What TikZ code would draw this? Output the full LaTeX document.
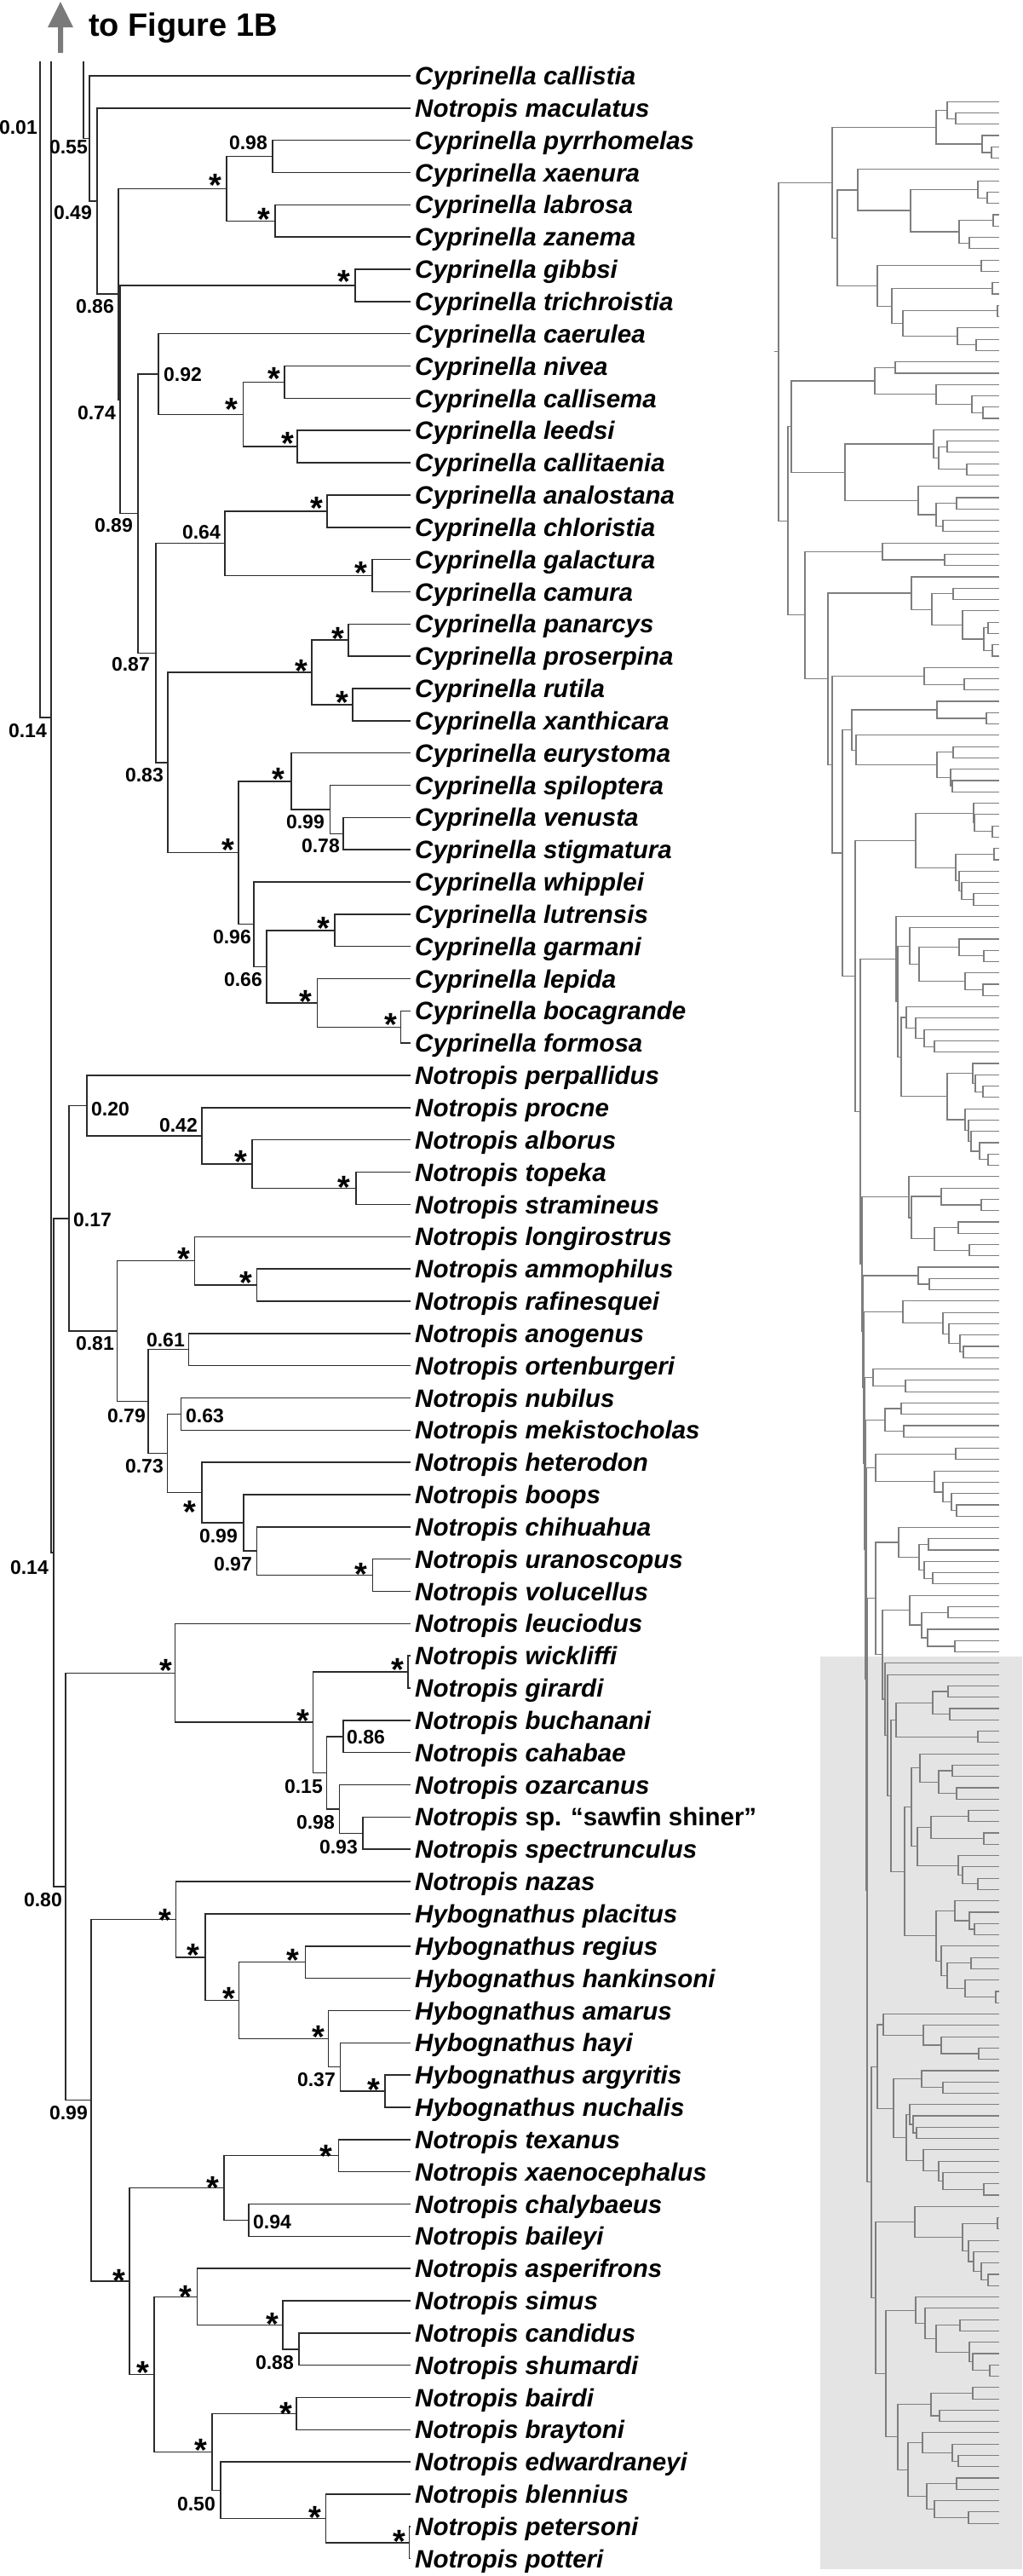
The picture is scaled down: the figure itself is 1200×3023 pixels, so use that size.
\documentclass[tikz,border=0pt]{standalone}
\usepackage{fontspec}
\setmainfont{Liberation Sans}
\usetikzlibrary{calc}
\definecolor{linecol}{HTML}{2B2B2B}
\definecolor{greycol}{HTML}{7E7E7E}
\definecolor{boxcol}{HTML}{E4E4E4}
\definecolor{arrowcol}{HTML}{7A7A7A}
\tikzset{
  br/.style={draw=linecol, line width=1.5pt},
  gb/.style={draw=greycol, line width=1.15pt},
  spl/.style={font=\fontsize{29.5}{32}\selectfont\bfseries\itshape, inner sep=0pt, anchor=base west, xshift=5pt, yshift=-10.6pt},
  num/.style={font=\fontsize{23}{26}\selectfont\bfseries, inner sep=0pt},
  ast/.style={font=\fontsize{38}{40}\selectfont\bfseries, inner sep=0pt, anchor=base, yshift=-20.9pt},
}
% clade: [style]{name}{x}{child1}{child2}
\newcommand\mkclade[5][br]{%
  \path let \p1=($(#4)!0.5!(#5)$) in coordinate (#2) at (#3pt,\y1);%
  \draw[#1] (#2) |- (#4) (#2) |- (#5);}
\begin{document}
\begin{tikzpicture}[x=1pt,y=-1pt]
\useasboundingbox (0,0) rectangle (1200,3023);
\fill[white] (0,0) rectangle (1200,3023);
\fill[boxcol] (963,1944) rectangle (1200,3015);

% ---------- arrow and heading ----------
\fill[arrowcol] (68,62) -- (68,32) -- (56,32) -- (71,2) -- (86,32) -- (74,32) -- (74,62) -- cycle;
\node[font=\fontsize{38}{40}\selectfont\bfseries, anchor=base west, inner sep=0pt] (title) at (104,42) {to Figure 1B};

% ---------- main tree leaves ----------
\foreach \i in {1,...,78}{\coordinate (L\i) at (482,{89+37.84*(\i-1)});}

% Cyprinella part
\mkclade{T1}{320}{L3}{L4}
\mkclade{T2}{323}{L5}{L6}
\mkclade{T3}{266}{T1}{T2}
\mkclade{T4}{417}{L7}{L8}
\mkclade{T5}{334}{L10}{L11}
\mkclade{T6}{349}{L12}{L13}
\mkclade{T7}{285.5}{T5}{T6}
\mkclade{T8}{186}{L9}{T7}
\mkclade{T9}{384}{L14}{L15}
\mkclade{T10}{437}{L16}{L17}
\mkclade{T11}{264}{T9}{T10}
\mkclade{T12}{409}{L18}{L19}
\mkclade{T13}{414}{L20}{L21}
\mkclade{T14}{366}{T12}{T13}
\mkclade{T15}{403}{L24}{L25}
\mkclade{T16}{387.5}{L23}{T15}
\mkclade{T17}{342}{L22}{T16}
\mkclade{T18}{393}{L27}{L28}
\mkclade{T19}{470.5}{L30}{L31}
\mkclade{T20}{372.5}{L29}{T19}
\mkclade{T21}{313}{T18}{T20}
\mkclade{T22}{298}{L26}{T21}
\mkclade{T23}{280}{T17}{T22}
\mkclade{T24}{197}{T14}{T23}
\mkclade{T25}{183}{T11}{T24}
\mkclade{T26}{162}{T8}{T25}
\mkclade{T27}{141}{T4}{T26}
\mkclade{T28}{139}{T3}{T27}
\mkclade{T29}{114}{L2}{T28}
\mkclade{T30}{105}{L1}{T29}
\coordinate (S3) at (98,72);
\draw[br] (S3) |- (T30);

% Notropis part
\mkclade{T31}{418}{L35}{L36}
\mkclade{T32}{296}{L34}{T31}
\mkclade{T33}{237}{L33}{T32}
\mkclade{T34}{102}{L32}{T33}
\mkclade{T35}{301.7}{L38}{L39}
\mkclade{T36}{228.5}{L37}{T35}
\mkclade{T37}{221.4}{L40}{L41}
\mkclade{T38}{212.7}{L42}{L43}
\mkclade{T39}{437.7}{L47}{L48}
\mkclade{T40}{301.7}{L46}{T39}
\mkclade{T41}{286}{L45}{T40}
\mkclade{T42}{237}{L44}{T41}
\mkclade{T43}{196.5}{T38}{T42}
\mkclade{T44}{174}{T37}{T43}
\mkclade{T45}{137.6}{T36}{T44}
\mkclade{T46}{81}{T34}{T45}
\mkclade{T47}{479}{L50}{L51}
\mkclade{T48}{403}{L52}{L53}
\mkclade{T49}{425.8}{L55}{L56}
\mkclade{T50}{398.6}{L54}{T49}
\mkclade{T51}{383.5}{T48}{T50}
\mkclade{T52}{367.7}{T47}{T51}
\mkclade{T53}{205.6}{L49}{T52}
\mkclade{T54}{452}{L63}{L64}
\mkclade{T55}{399.4}{L62}{T54}
\mkclade{T56}{385.5}{L61}{T55}
\mkclade{T57}{358.6}{L59}{L60}
\mkclade{T58}{280.7}{T57}{T56}
\mkclade{T59}{241}{L58}{T58}
\mkclade{T60}{206.4}{L57}{T59}
\mkclade{T61}{397.4}{L65}{L66}
\mkclade{T62}{291.8}{L67}{L68}
\mkclade{T63}{263}{T61}{T62}
\mkclade{T64}{351}{L71}{L72}
\mkclade{T65}{332}{L70}{T64}
\mkclade{T66}{231.3}{L69}{T65}
\mkclade{T67}{348}{L73}{L74}
\mkclade{T68}{480.4}{L77}{L78}
\mkclade{T69}{382.7}{L76}{T68}
\mkclade{T70}{259}{L75}{T69}
\mkclade{T71}{249}{T67}{T70}
\mkclade{T72}{181}{T66}{T71}
\mkclade{T73}{152}{T63}{T72}
\mkclade{T74}{106.8}{T60}{T73}
\mkclade{T75}{77}{T53}{T74}
\mkclade{T76}{63}{T46}{T75}
\coordinate (S1) at (47,72);
\coordinate (S2) at (60,72);
\coordinate (N50) at (60,842);
\draw[br] (S1) |- (N50);
\draw[br] (S2) -- (N50) |- (T76);

% ---------- species names ----------
\foreach \s [count=\i] in {Cyprinella callistia, Notropis maculatus, Cyprinella pyrrhomelas, Cyprinella xaenura, Cyprinella labrosa, Cyprinella zanema, Cyprinella gibbsi, Cyprinella trichroistia, Cyprinella caerulea, Cyprinella nivea, Cyprinella callisema, Cyprinella leedsi, Cyprinella callitaenia, Cyprinella analostana, Cyprinella chloristia, Cyprinella galactura, Cyprinella camura, Cyprinella panarcys, Cyprinella proserpina, Cyprinella rutila, Cyprinella xanthicara, Cyprinella eurystoma, Cyprinella spiloptera, Cyprinella venusta, Cyprinella stigmatura, Cyprinella whipplei, Cyprinella lutrensis, Cyprinella garmani, Cyprinella lepida, Cyprinella bocagrande, Cyprinella formosa, Notropis perpallidus, Notropis procne, Notropis alborus, Notropis topeka, Notropis stramineus, Notropis longirostrus, Notropis ammophilus, Notropis rafinesquei, Notropis anogenus, Notropis ortenburgeri, Notropis nubilus, Notropis mekistocholas, Notropis heterodon, Notropis boops, Notropis chihuahua, Notropis uranoscopus, Notropis volucellus, Notropis leuciodus, Notropis wickliffi, Notropis girardi, Notropis buchanani, Notropis cahabae, Notropis ozarcanus, {Notropis \upshape sp. “sawfin shiner”}, Notropis spectrunculus, Notropis nazas, Hybognathus placitus, Hybognathus regius, Hybognathus hankinsoni, Hybognathus amarus, Hybognathus hayi, Hybognathus argyritis, Hybognathus nuchalis, Notropis texanus, Notropis xaenocephalus, Notropis chalybaeus, Notropis baileyi, Notropis asperifrons, Notropis simus, Notropis candidus, Notropis shumardi, Notropis bairdi, Notropis braytoni, Notropis edwardraneyi, Notropis blennius, Notropis petersoni, Notropis potteri}
  {\node[spl] (sp\i) at (L\i) {\s};}

% ---------- support values ----------
\foreach \a/\x/\y/\t [count=\k] in {east/44/150/0.01, east/103/173/0.55, east/108/250/0.49, east/314/168/0.98, east/134/360/0.86, east/136/485/0.74, west/192/440/0.92, east/156/617/0.89, east/259/625/0.64, east/176/780/0.87, east/192/910/0.83, east/381/965/0.99, east/399/993/0.78, east/295/1100/0.96, east/308/1150/0.66, west/107/1302/0.20, east/232/1321/0.42, west/86/1432/0.17, east/134/1577/0.81, east/217/1573/0.61, east/171/1662/0.79, west/218/1662/0.63, east/192/1721/0.73, east/279/1803/0.99, east/296/1836/0.97, east/55/858/0.14, east/57/1840/0.14, west/407/2039/0.86, east/379/2097/0.15, east/393/2139/0.98, east/420/2168/0.93, east/73/2230/0.80, east/394/2441/0.37, east/103/2480/0.99, west/297/2608/0.94, east/345/2773/0.88, east/253/2939/0.50}
  {\node[num,anchor=\a] (nv\k) at (\x,\y) {\t};}

\foreach \x/\y [count=\k] in {253/210, 310/250, 404/323, 272/473, 322/437, 338/513, 372/589, 424/665, 354/780, 397/742, 402/817, 327/907, 268/990, 380/1082, 358.6/1168, 458.7/1195, 282.7/1356, 404/1386, 215.5/1470, 288.6/1498, 223/1767, 424/1840, 194.5/1953, 466.6/1952, 356/2012, 193.7/2246, 226.6/2287, 344/2293, 269/2338, 373.6/2383, 439/2445, 382.7/2523, 250/2560, 140/2669, 217.5/2688, 319.5/2720, 168/2777, 336/2825, 236/2868, 369.7/2947, 468.5/2975}
  {\node[ast] (as\k) at (\x,\y) {*};}

% ---------- grey overview tree ----------
\foreach \j in {1,...,215}{\coordinate (m\j) at (1173,{119.2+13.28*(\j-1)});}
\mkclade[gb]{a1}{1122}{m2}{m3}
\mkclade[gb]{a2}{1112}{m1}{a1}
\mkclade[gb]{a3}{1164}{m5}{m6}
\mkclade[gb]{a4}{1153}{m4}{a3}
\mkclade[gb]{a5}{1099}{a2}{a4}
\mkclade[gb]{a6}{1159}{m9}{m10}
\mkclade[gb]{a7}{1148}{m8}{a6}
\mkclade[gb]{a8}{1166}{m11}{m12}
\mkclade[gb]{a9}{1138}{m13}{m14}
\mkclade[gb]{a10}{1126}{a8}{a9}
\mkclade[gb]{a11}{1069}{a7}{a10}
\mkclade[gb]{a12}{1007}{m7}{a11}
\mkclade[gb]{a13}{1152}{m15}{m16}
\mkclade[gb]{a14}{1165}{m17}{m18}
\mkclade[gb]{a15}{1171}{m19}{m20}
\mkclade[gb]{a16}{1146}{m22}{m23}
\mkclade[gb]{a17}{1124}{m21}{a16}
\mkclade[gb]{a18}{1060}{a15}{a17}
\mkclade[gb]{a19}{1047}{a14}{a18}
\mkclade[gb]{a20}{1030}{a13}{a19}
\mkclade[gb]{a21}{983}{a12}{a20}
\mkclade[gb]{a22}{977}{a5}{a21}
\mkclade[gb]{b1}{1051}{m24}{m25}
\mkclade[gb]{b2}{1154}{m28}{m29}
\mkclade[gb]{b3}{1141}{m27}{b2}
\mkclade[gb]{b4}{1099}{m26}{b3}
\mkclade[gb]{b5}{1027}{b1}{b4}
\mkclade[gb]{b6}{1112}{m31}{m32}
\mkclade[gb]{b7}{1135}{m33}{m34}
\mkclade[gb]{b8}{1102}{b6}{b7}
\mkclade[gb]{b9}{1096}{m30}{b8}
\mkclade[gb]{b10}{1123}{m36}{m37}
\mkclade[gb]{b11}{1107}{m38}{m39}
\mkclade[gb]{b12}{1099}{b10}{b11}
\mkclade[gb]{b13}{1078}{m35}{b12}
\mkclade[gb]{b14}{992}{b9}{b13}
\mkclade[gb]{b15}{929}{b5}{b14}
\mkclade[gb]{c1}{1109}{m41}{m42}
\mkclade[gb]{c2}{1036}{m40}{c1}
\mkclade[gb]{c3}{1119}{m44}{m45}
\mkclade[gb]{c4}{1160}{m47}{m48}
\mkclade[gb]{c5}{1165}{m49}{m50}
\mkclade[gb]{c6}{1155}{c4}{c5}
\mkclade[gb]{c7}{1130}{m46}{c6}
\mkclade[gb]{c8}{1094}{c3}{c7}
\mkclade[gb]{c9}{1070}{m43}{c8}
\mkclade[gb]{c10}{1132}{m52}{m53}
\mkclade[gb]{c11}{1085}{m51}{c10}
\mkclade[gb]{d1}{1158}{m55}{m56}
\mkclade[gb]{d2}{1100}{m54}{d1}
\mkclade[gb]{d3}{1119}{m58}{m59}
\mkclade[gb]{d4}{1118}{m61}{m62}
\mkclade[gb]{d5}{1116}{m60}{d4}
\mkclade[gb]{d6}{1100}{d3}{d5}
\mkclade[gb]{d7}{1005}{m57}{d6}
\mkclade[gb]{d8}{1000}{d2}{d7}
\mkclade[gb]{d9}{1165}{m65}{m66}
\mkclade[gb]{d10}{1144}{m64}{d9}
\mkclade[gb]{d11}{1143}{m63}{d10}
\mkclade[gb]{d12}{1167}{m67}{m68}
\mkclade[gb]{d13}{1143}{m71}{m72}
\mkclade[gb]{d14}{1129}{m70}{d13}
\mkclade[gb]{d15}{1126}{m69}{d14}
\mkclade[gb]{d16}{1122}{d12}{d15}
\mkclade[gb]{d17}{1075}{d11}{d16}
\mkclade[gb]{e1}{1155}{m76}{m77}
\mkclade[gb]{e2}{1126}{m75}{e1}
\mkclade[gb]{e3}{1154}{m79}{m80}
\mkclade[gb]{e4}{1133}{m78}{e3}
\mkclade[gb]{e5}{1079}{e2}{e4}
\mkclade[gb]{e6}{1068}{m74}{e5}
\mkclade[gb]{e7}{1097}{m84}{m85}
\mkclade[gb]{e8}{1085}{m83}{e7}
\mkclade[gb]{e9}{1075}{m82}{e8}
\mkclade[gb]{e10}{1064}{m81}{e9}
\mkclade[gb]{e11}{1154}{m88}{m89}
\mkclade[gb]{e12}{1145}{m87}{e11}
\mkclade[gb]{e13}{1142}{m86}{e12}
\mkclade[gb]{e14a}{1160}{m94}{m95}
\mkclade[gb]{e14}{1150}{m93}{e14a}
\mkclade[gb]{e15}{1140}{m92}{e14}
\mkclade[gb]{e16}{1137}{m91}{e15}
\mkclade[gb]{e17}{1133}{m90}{e16}
\mkclade[gb]{e18}{1112}{e13}{e17}
\mkclade[gb]{e19}{1058}{e10}{e18}
\mkclade[gb]{e20}{1054}{e6}{e19}
\mkclade[gb]{e21}{1052}{m73}{e20}
\mkclade[gb]{f1}{1152}{m98}{m99}
\mkclade[gb]{f2}{1105}{m97}{f1}
\mkclade[gb]{f3}{1125}{m100}{m101}
\mkclade[gb]{f4}{1138}{m102}{m103}
\mkclade[gb]{f5}{1097}{f3}{f4}
\mkclade[gb]{f6}{1070}{f2}{f5}
\mkclade[gb]{f7}{1067}{m96}{f6}
\mkclade[gb]{g1}{1091}{m105}{m106}
\mkclade[gb]{g2}{1078}{m104}{g1}
\mkclade[gb]{g3}{1131}{m111}{m112}
\mkclade[gb]{g4}{1127}{m110}{g3}
\mkclade[gb]{g5}{1114}{m109}{g4}
\mkclade[gb]{g6}{1107}{m108}{g5}
\mkclade[gb]{g7}{1060}{m107}{g6}
\mkclade[gb]{g8}{1063}{m114}{m115}
\mkclade[gb]{g9}{1025}{m113}{g8}
\mkclade[gb]{g10}{1058}{m116}{m117}
\mkclade[gb]{g11}{1061}{m118}{m119}
\mkclade[gb]{g12}{1039}{g10}{g11}
\mkclade[gb]{g13}{1122}{m120}{m121}
\mkclade[gb]{g14}{1123}{m125}{m126}
\mkclade[gb]{g15}{1117}{m124}{g14}
\mkclade[gb]{g16}{1107}{m123}{g15}
\mkclade[gb]{g17}{1097}{m122}{g16}
\mkclade[gb]{g18}{1028}{g13}{g17}
\mkclade[gb]{h1}{1113}{m141}{m142}
\mkclade[gb]{h2}{1115}{m143}{m144}
\mkclade[gb]{h3}{1095}{h1}{h2}
\mkclade[gb]{h4}{1148}{m145}{m146}
\mkclade[gb]{h5}{1052}{h3}{h4}
\mkclade[gb]{h6}{1118}{m148}{m149}
\mkclade[gb]{h7}{1123}{m150}{m151}
\mkclade[gb]{h8}{1102}{h6}{h7}
\mkclade[gb]{h9}{1080}{m147}{h8}
\mkclade[gb]{h10}{1137}{m152}{m153}
\mkclade[gb]{h11}{1155}{m154}{m155}
\mkclade[gb]{h12}{1093}{h10}{h11}
\mkclade[gb]{h13}{1148}{m158}{m159}
\mkclade[gb]{h14}{1130}{m157}{h13}
\mkclade[gb]{h15}{1125}{m156}{h14}
\mkclade[gb]{h16}{1077}{h12}{h15}
\mkclade[gb]{h17}{1070}{h9}{h16}
\mkclade[gb]{h18}{1144}{m162}{m163}
\mkclade[gb]{h19}{1138}{m161}{h18}
\mkclade[gb]{h20}{1121}{m160}{h19}
\mkclade[gb]{h21}{1140}{m165}{m166}
\mkclade[gb]{h22}{1169}{m168}{m169}
\mkclade[gb]{h23}{1133}{m167}{h22}
\mkclade[gb]{h24}{1112}{h21}{h23}
\mkclade[gb]{h25}{1105}{m164}{h24}
\mkclade[gb]{h26}{1099}{h20}{h25}
\mkclade[gb]{h27}{1062}{h17}{h26}
\mkclade[gb]{h28}{1046}{h5}{h27}
\mkclade[gb]{h29}{1042}{m140}{h28}
\mkclade[gb]{h30}{1039}{m139}{h29}
\mkclade[gb]{s1}{1090}{m128}{m129}
\mkclade[gb]{s2}{1095}{m131}{m132}
\mkclade[gb]{s3}{1085}{m130}{s2}
\mkclade[gb]{s4}{1079}{s1}{s3}
\mkclade[gb]{s5}{1055}{m127}{s4}
\mkclade[gb]{s6}{1113}{m134}{m135}
\mkclade[gb]{s7}{1121}{m137}{m138}
\mkclade[gb]{s8}{1089}{m136}{s7}
\mkclade[gb]{s9}{1082}{s6}{s8}
\mkclade[gb]{s10}{1068}{m133}{s9}
\mkclade[gb]{s11}{1036}{s10}{h30}
\mkclade[gb]{s12}{1028}{s5}{s11}
\mkclade[gb]{i1}{1149}{m173}{m174}
\mkclade[gb]{i2}{1105}{m172}{i1}
\mkclade[gb]{i3}{1084}{m171}{i2}
\mkclade[gb]{i4}{1037}{m170}{i3}
\mkclade[gb]{i5}{1107}{m176}{m177}
\mkclade[gb]{i6}{1082}{m175}{i5}
\mkclade[gb]{i7}{1155}{m185}{m186}
\mkclade[gb]{i8}{1107}{m184}{i7}
\mkclade[gb]{i9}{1102}{m183}{i8}
\mkclade[gb]{i10}{1084}{m182}{i9}
\mkclade[gb]{i11}{1076}{m180}{m181}
\mkclade[gb]{i12}{1072}{m179}{i11}
\mkclade[gb]{i12b}{1068}{m178}{i12}
\mkclade[gb]{i13}{1064}{i12b}{i10}
\mkclade[gb]{i15}{1049}{i6}{i13}
\mkclade[gb]{i16}{1030}{i4}{i15}
\mkclade[gb]{k1}{1171}{m188}{m189}
\mkclade[gb]{k2a}{1160}{m193}{m194}
\mkclade[gb]{k2}{1152}{m192}{k2a}
\mkclade[gb]{k3}{1143}{m191}{k2}
\mkclade[gb]{k4}{1137}{m190}{k3}
\mkclade[gb]{k5}{1130}{k1}{k4}
\mkclade[gb]{k6}{1074}{m187}{k5}
\mkclade[gb]{l1}{1127}{m197}{m198}
\mkclade[gb]{l2}{1162}{m201}{m202}
\mkclade[gb]{l3}{1142}{m200}{l2}
\mkclade[gb]{l4}{1138}{m199}{l3}
\mkclade[gb]{l5}{1099}{l1}{l4}
\mkclade[gb]{l6}{1086}{m196}{l5}
\mkclade[gb]{l7}{1075}{m195}{l6}
\mkclade[gb]{n1}{1142}{m203}{m204}
\mkclade[gb]{n2}{1103}{m205}{m206}
\mkclade[gb]{n2b}{1093}{n1}{n2}
\mkclade[gb]{n3}{1125}{m209}{m210}
\mkclade[gb]{n4}{1118}{m208}{n3}
\mkclade[gb]{n5}{1083}{m207}{n4}
\mkclade[gb]{n6}{1123}{m211}{m212}
\mkclade[gb]{n7}{1137}{m214}{m215}
\mkclade[gb]{n8}{1097}{m213}{n7}
\mkclade[gb]{n9}{1088}{n6}{n8}
\mkclade[gb]{n10}{1066}{n5}{n9}
\mkclade[gb]{n11}{1054}{n2b}{n10}
\mkclade[gb]{p1}{1040}{l7}{n11}
\mkclade[gb]{p2}{1028}{k6}{p1}
\mkclade[gb]{w1}{1023}{i16}{p2}
\mkclade[gb]{w2}{1018}{s12}{w1}
\mkclade[gb]{w3}{1017}{g18}{w2}
\mkclade[gb]{w4}{1016}{g12}{w3}
\mkclade[gb]{w5}{1015}{g9}{w4}
\mkclade[gb]{w6}{1014}{g7}{w5}
\mkclade[gb]{w7}{1013}{g2}{w6}
\mkclade[gb]{w8}{1012}{f7}{w7}
\mkclade[gb]{w9}{1010}{e21}{w8}
\mkclade[gb]{u1}{1004}{d17}{w9}
\mkclade[gb]{u2}{989}{d8}{u1}
\mkclade[gb]{u3}{977}{c11}{u2}
\mkclade[gb]{u4}{972}{c9}{u3}
\mkclade[gb]{u5}{945}{c2}{u4}
\mkclade[gb]{u6}{925}{b15}{u5}
\mkclade[gb]{u7}{914}{a22}{u6}
\coordinate (rootstub) at (909,0);
\draw[gb] (u7) -- (u7 -| rootstub);
\end{tikzpicture}
\end{document}
